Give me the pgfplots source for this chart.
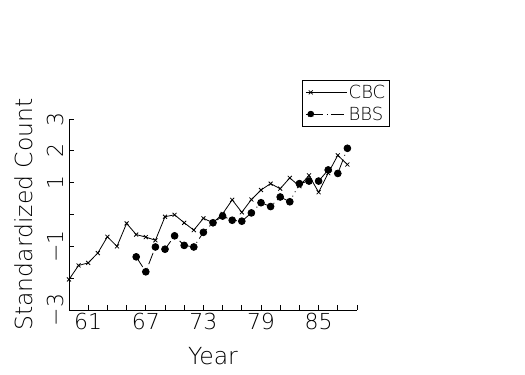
\documentclass[border=0pt]{standalone}
\usepackage{pgfplots}
\pgfplotsset{compat=1.18}
\usepackage{fontspec}
\setmainfont{DejaVu Sans}[UprightFont={* ExtraLight}]
\begin{document}
\begin{tikzpicture}
\useasboundingbox (0,0) rectangle (525bp,375bp);
\begin{axis}[
  at={(69bp,65bp)}, anchor=south west,
  scale only axis, width=288bp, height=191bp,
  xmin=59, xmax=89, ymin=-3, ymax=3,
  axis x line*=bottom, axis y line*=left,
  axis line style={line width=1bp, -},
  xtick={61,63,...,89},
  xticklabels={61,,,67,,,73,,,79,,,85,,,},
  ytick={-3,-2,-1,0,1,2,3},
  yticklabels={−3,,−1,,1,2,3},
  tick align=inside, major tick length=5bp,
  tick style={black, line width=0.8bp},
  xticklabel style={anchor=north, inner sep=3bp, font=\fontsize{22bp}{24bp}\selectfont},
  yticklabel style={rotate=90, anchor=south, inner sep=5bp, font=\fontsize{22bp}{24bp}\selectfont},
  xlabel={Year},
  ylabel={Standardized Count},
  x label style={at={(axis description cs:0.5,-0.241)}, anchor=center, font=\fontsize{23.5bp}{25bp}\selectfont},
  y label style={at={(axis description cs:-0.156,0.5)}, anchor=center, font=\fontsize{23.5bp}{25bp}\selectfont},
  legend style={at={(axis description cs:0.809,1.204)}, anchor=north west,
    draw=black, line width=0.8bp, font=\fontsize{18bp}{20bp}\selectfont,
    inner xsep=3bp, inner ysep=3bp, row sep=4bp,
    nodes={inner sep=1.5bp}},
  legend cell align=left,
  clip=false,
]
\addplot[black, line width=0.8bp, mark=x, mark size=2.8bp,
  legend image code/.code={
    \path (-5bp,0bp) -- (36bp,0bp);
    \draw[black, line width=0.8bp] (0bp,0bp) -- (32bp,0bp);
    \pgfsetlinewidth{0.8bp}\pgfuseplotmark{x}}]
coordinates {
(59,-2.04) (60,-1.60) (61,-1.52) (62,-1.21) (63,-0.70) (64,-1.00)
(65,-0.28) (66,-0.63) (67,-0.71) (68,-0.81) (69,-0.07) (70,-0.01)
(71,-0.26) (72,-0.49) (73,-0.12) (74,-0.26) (75,0.02) (76,0.46)
(77,0.07) (78,0.47) (79,0.77) (80,0.97) (81,0.81) (82,1.15)
(83,0.89) (84,1.23) (85,0.70) (86,1.30) (87,1.86) (88,1.57)
};
\addlegendentry{CBC}
\addplot[black, line width=0.8bp, dash pattern=on 12bp off 4bp on 1bp off 4bp on 1bp off 4bp,
  mark=*, mark size=3.4bp, mark options={solid},
  legend image code/.code={
    \path (-5bp,0bp) -- (36bp,0bp);
    \draw[black, line width=0.8bp, dash pattern=on 12bp off 8bp on 1.2bp off 6bp on 1.2bp off 20bp] (0bp,0bp) -- (32bp,0bp);
    \fill[black] (0bp,0bp) circle (3bp);}]
coordinates {
(66,-1.33) (67,-1.80) (68,-1.02) (69,-1.09) (70,-0.67) (71,-0.97)
(72,-1.02) (73,-0.56) (74,-0.26) (75,-0.05) (76,-0.18) (77,-0.21)
(78,0.05) (79,0.37) (80,0.25) (81,0.55) (82,0.40) (83,0.97)
(84,1.05) (85,1.05) (86,1.40) (87,1.29) (88,2.08)
};
\addlegendentry{BBS}
\end{axis}
\end{tikzpicture}
\end{document}
